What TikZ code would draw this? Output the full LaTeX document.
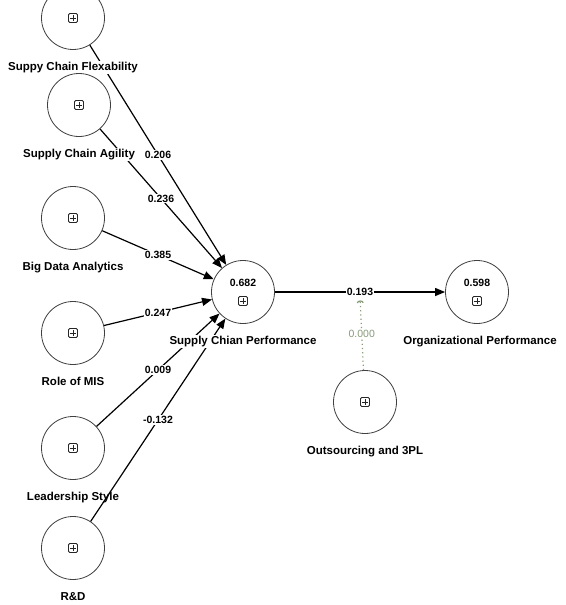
\documentclass[tikz,border=0pt]{standalone}
\usepackage{fontspec}
\setmainfont{Liberation Sans}
\usetikzlibrary{arrows.meta,positioning}
\definecolor{modgreen}{RGB}{135,155,122}
\tikzset{
    lv/.style={draw=black!75, circle, minimum size=63pt, inner sep=0pt, line width=0.8pt},
    expand/.style={draw=black!85, rounded corners=1.2pt, minimum size=9pt, inner sep=0pt, line width=0.8pt,
        path picture={\draw[line width=0.8pt] (path picture bounding box.center) ++(-3pt,0) -- ++(6pt,0)
            (path picture bounding box.center) ++(0,-3pt) -- ++(0,6pt);}},
    lvname/.style={fill=white, inner sep=1pt, text height=8.5pt, text depth=2.5pt,
        font=\fontsize{11.5}{13}\selectfont\bfseries},
    coef/.style={fill=white, inner sep=1pt, text height=7.6pt, text depth=0pt,
        font=\fontsize{10.5}{12}\selectfont\bfseries},
    rsq/.style={inner sep=1pt, text height=7.6pt, text depth=0pt,
        font=\fontsize{10.5}{12}\selectfont\bfseries},
    effect/.style={-{Triangle[length=10pt,width=8pt]}, line width=1.2pt},
    modline/.style={modgreen, line width=1.2pt, dash pattern=on 1.2pt off 3pt,
        -{Arc Barb[length=2.5pt,width=7pt]}, shorten >=3pt},
    modval/.style={fill=white, inner sep=1pt, text=modgreen, font=\fontsize{10.5}{12}\selectfont}
}
\begin{document}
\begin{tikzpicture}[x=1pt, y=-1pt]
        \useasboundingbox (0,0) rectangle (565,605);
        % Endogenous constructs
        \node[lv] (scp) at (243,292) {};
        \node[rsq] (scp-r2) at (243,283) {0.682};
        \node[expand] (scp-box) at (243,301) {};
        \node[lv] (orgp) at (477,292) {};
        \node[rsq] (orgp-r2) at (477,283) {0.598};
        \node[expand] (orgp-box) at (477,301) {};
        % Moderator
        \node[lv] (outs) at (365,402) {};
        \node[expand] (outs-box) at (outs) {};
        % Exogenous constructs and paths
        \foreach \name/\x/\y/\txt/\val in {
            flex/73/18/Suppy Chain Flexability/0.206,
            agil/79/105/Supply Chain Agility/0.236,
            bda/73/218/Big Data Analytics/0.385,
            mis/73/333/Role of MIS/0.247,
            lead/73/448/Leadership Style/0.009,
            rnd/73/548/R\&D/-0.132
        } {
            \node[lv] (\name) at (\x,\y) {};
            \node[expand] (\name-box) at (\name) {};
            \draw[effect] (\name) -- node[coef] (\name-coef) {\val} (scp);
            \node[lvname] (\name-lbl) at (\x,\y+49) {\txt};
        }
        \draw[effect] (scp) -- node[coef] (orgp-coef) {0.193} (orgp);
        \draw[modline] (outs) -- node[modval] (outs-coef) {0.000} (orgp-coef.south);
        % Construct names
        \node[lvname] (scp-lbl) at (243,341) {Supply Chian Performance};
        \node[lvname] (orgp-lbl) at (480,341) {Organizational Performance};
        \node[lvname] (outs-lbl) at (365,451) {Outsourcing and 3PL};
    \end{tikzpicture}
\end{document}
